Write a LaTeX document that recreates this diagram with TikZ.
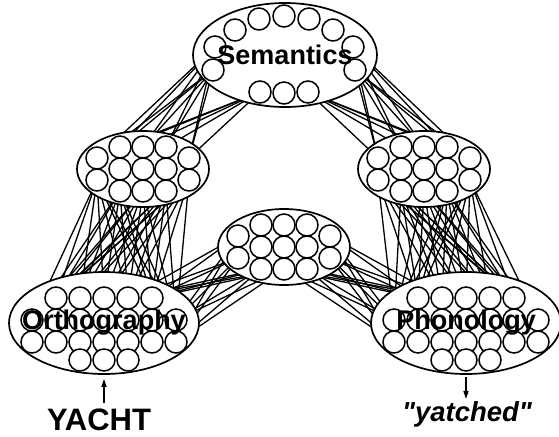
\documentclass[tikz,border=0pt]{standalone}
\usepackage{fontspec}
\setmainfont{Liberation Sans}[Ligatures=TeXOff]
\usepackage{tikz}
\usetikzlibrary{positioning,arrows.meta,shapes.geometric,backgrounds}

\tikzset{
  unit/.style={circle,draw,fill=white,line width=1.5pt,minimum size=22pt,inner sep=0pt},
  pool/.style={ellipse,draw,fill=white,line width=1.7pt,inner sep=0pt},
  link/.style={line width=1.3pt},
  lbl/.style={inner sep=0pt,font=\bfseries\fontsize{27}{27}\selectfont},
  arr/.style={line width=1.5pt,-{Triangle[length=8pt,width=5pt]}}
}

\begin{document}
\begin{tikzpicture}[x=1pt,y=-1pt]
\useasboundingbox (0,0) rectangle (559,436);

% semantics pool
\node[pool,minimum width=184pt,minimum height=104pt] (sem) at (285,55) {};
\foreach \n/\x/\y in {1/213/70,2/215/47,3/235/30,4/259/19,5/284/16,6/309/19,7/333/30,8/353/47,9/355/70,10/260/92,11/284/93,12/308/92}
  \node[unit] (s\n) at (\x,\y) {};

% hidden pools
\foreach \g/\cx/\cy in {hl/143/169,hr/424/169,hm/284/247}{
  \node[pool,minimum width=132pt,minimum height=76pt] (\g) at (\cx,\cy) {};
  \foreach \n/\dx/\dy in {1/-46/-11,2/-46/11,3/-23/-22,4/0/-22,5/23/-22,6/-23/0,7/0/0,8/23/0,9/-23/22,10/0/22,11/23/22,12/46/-11,13/46/11}
    \node[unit] (\g\n) at ({\cx+\dx},{\cy+\dy}) {};
}

% orthography and phonology
\node[pool,minimum width=190pt,minimum height=102pt] (orth) at (104,323) {};
\node[pool,minimum width=190pt,minimum height=102pt] (phon) at (466,323) {};
\foreach \r/\y/\cols in {1/298/{2,...,6},2/320/{1,...,7},3/342/{1,...,7},4/360/{3,4,5}}
  \foreach \c in \cols {
    \node[unit] (o-\c-\r) at ({8+24*\c},\y) {};
    \node[unit] (p-\c-\r) at ({370+24*\c},\y) {};
  }

% labels
\node[lbl] (semlbl) at (sem) {Semantics};
\node[lbl] (orthlbl) at (orth) {Orthography};
\node[lbl] (phonlbl) at (phon) {Phonology};

% input and output
\node[inner sep=0pt,font=\bfseries\fontsize{31}{31}\selectfont] (yacht) at (99,420) {YACHT};
\node[inner sep=0pt,font=\bfseries\itshape\fontsize{27.5}{27.5}\selectfont] (yat) at (467,414) {"yatched"};
\draw[arr,shorten <=6pt,shorten >=4pt] (yacht.north -| orth.south) -- (orth.south);
\draw[arr,shorten <=2pt,shorten >=2pt] (phon.south) -- (phon.south |- yat.north);

% connections
\begin{pgfonlayer}{background}
  \foreach \a in {s1,s2,s10}
    \foreach \b in {hl1,hl3,hl4,hl5,hl12} \draw[link] (\a) -- (\b);
  \foreach \a in {s9,s8,s12}
    \foreach \b in {hr12,hr5,hr4,hr3,hr1} \draw[link] (\a) -- (\b);
  \foreach \a in {hl2,hl9,hl10,hl11,hl13}
    \foreach \b in {o-1-2,o-2-1,o-3-1,o-4-1,o-5-1,o-6-1,o-7-2} \draw[link] (\a) -- (\b);
  \foreach \a in {hr13,hr11,hr10,hr9,hr2}
    \foreach \b in {p-7-2,p-6-1,p-5-1,p-4-1,p-3-1,p-2-1,p-1-2} \draw[link] (\a) -- (\b);
  \foreach \a in {o-5-1,o-6-1,o-7-2,o-7-3}
    \foreach \b in {hm1,hm2,hm9,hm10} \draw[link] (\a) -- (\b);
  \foreach \a in {p-3-1,p-2-1,p-1-2,p-1-3}
    \foreach \b in {hm12,hm13,hm11,hm10} \draw[link] (\a) -- (\b);
\end{pgfonlayer}
\end{tikzpicture}
\end{document}
